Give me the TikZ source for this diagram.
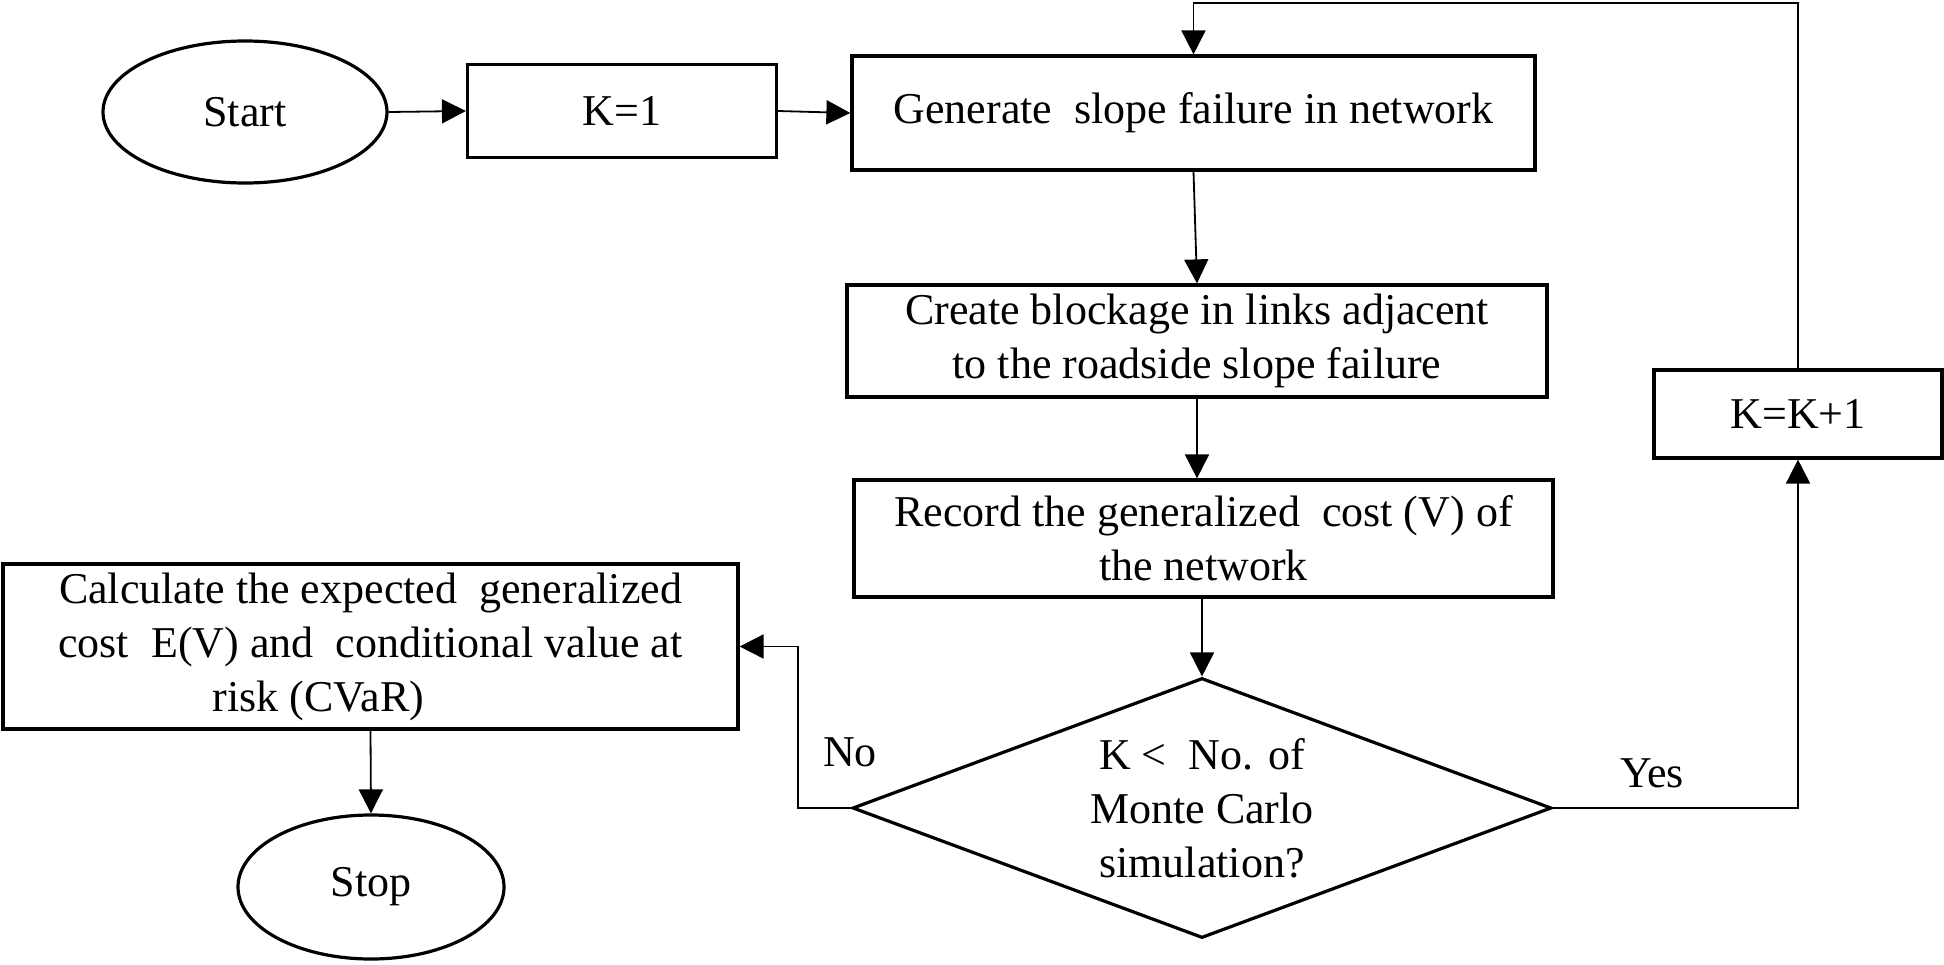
\documentclass[tikz,border=0pt]{standalone}
\usepackage{fontspec}
\setmainfont{Liberation Serif}
\usetikzlibrary{arrows.meta,shapes.geometric}

\begin{document}
\begin{tikzpicture}[x=0.5pt,y=0.5pt,yscale=-1,xscale=1,
  every node/.style={font=\fontsize{22}{27}\selectfont},
  box/.style={draw,line width=1.6pt,rectangle,inner sep=0pt,align=center},
  oval/.style={draw,line width=1.6pt,ellipse,inner sep=0pt},
  flow/.style={line width=0.9pt,-{Triangle[length=12pt,width=12pt]}}]
\useasboundingbox (0,0) rectangle (1944,964);

%Shape: Ellipse [start]
\node[oval,minimum width=142pt,minimum height=71pt] (start) at (245,112) {Start};
%Shape: Rectangle [K=1]
\node[box,minimum width=154.5pt,minimum height=46.5pt] (kone) at (622,111) {K=1};
%Shape: Rectangle [generate]
\node[box,minimum width=341.5pt,minimum height=57pt] (gen) at (1193.5,113) {Generate\ \ slope failure in network};
%Shape: Rectangle [blockage]
\node[box,minimum width=350pt,minimum height=56pt] (block) at (1197,341) {Create blockage in links adjacent\\to the roadside slope failure};
%Shape: Rectangle [record]
\node[box,minimum width=349.5pt,minimum height=58.5pt] (record) at (1203.5,538.5) {Record the generalized\ \ cost (V) of\\the network};
%Shape: Diamond [check]
\node[draw,line width=1.6pt,diamond,inner sep=0pt,aspect=2.69,align=center,minimum width=349.5pt,minimum height=130pt] (check) at (1202,808) {K <\ \ No. of\\Monte Carlo\\simulation?};
%Shape: Rectangle [K=K+1]
\node[box,minimum width=144pt,minimum height=44pt] (kk) at (1798,414) {K=K+1};
%Shape: Rectangle [calculate]
\node[box,minimum width=367.5pt,minimum height=82.5pt] (calc) at (370.5,646.5) {Calculate the expected\ \ generalized\\cost\ \ E(V) and\ \ conditional value at\\risk (CVaR)\hspace*{52pt}};
%Shape: Ellipse [stop]
\node[oval,minimum width=133pt,minimum height=72pt] (stop) at (371,887) {Stop};

%Labels
\node (yes) at (1652,773) {Yes};
\node (no) at (850,752) {No};

\coordinate (looptop) at (1799,3);
\coordinate (nobend) at (798,808);

%Straight Lines
\draw[flow] (start.east) -- (kone.west);
\draw[flow] (kone.east) -- (gen.west);
\draw[flow] (gen.south) -- (block.north);
\draw[flow] (block.south) -- (block.south |- record.north);
\draw[flow] (record.south -| check.north) -- (check.north);
\draw[flow] (calc.south) -- (stop.north);
%Elbow connectors
\draw[flow] (check.east) -| (kk.south);
\draw[flow] (kk.north) |- (looptop) -| (gen.north);
\draw[flow] (check.west) -- (nobend) |- (calc.east);

\end{tikzpicture}
\end{document}
